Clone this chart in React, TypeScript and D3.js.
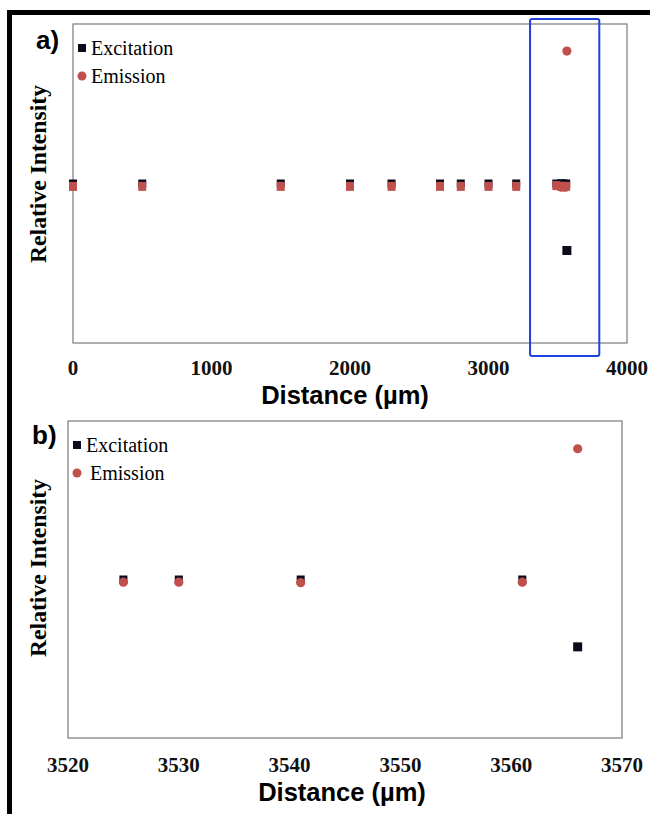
import React from "react";
import * as d3 from "d3";

// ---- data ----
const distA = [0, 500, 1500, 2000, 2300, 2650, 2800, 3000, 3200, 3490, 3525, 3530, 3541, 3561, 3566];
const excitationA = [1.0, 1.0, 1.0, 1.0, 1.0, 1.0, 1.0, 1.0, 1.0, 1.0, 1.0, 1.0, 1.0, 1.0, 0.58];
const emissionA = [0.985, 0.985, 0.985, 0.985, 0.985, 0.985, 0.985, 0.985, 0.985, 0.99, 0.985, 0.985, 0.98, 0.985, 1.83];

const distB = [3525, 3530, 3541, 3561, 3566];
const excitationB = [1.0, 1.0, 1.0, 1.0, 0.575];
const emissionB = [0.983, 0.983, 0.98, 0.983, 1.825];

const ticksA = [0, 1000, 2000, 3000, 4000];
const ticksB = [3520, 3530, 3540, 3550, 3560, 3570];
const highlightA = [3300, 3800];
const seriesNames = ["Excitation", "Emission"];

const EXC = "#0b0b1c";
const EMI = "#c0504d";
const SERIF = "'Liberation Serif', 'Times New Roman', serif";
const SANS = "'Liberation Sans', Arial, sans-serif";

type PanelProps = {
  label: string;
  x0: number; x1: number; y0: number; y1: number;
  domain: [number, number];
  ticks: number[];
  dist: number[];
  exc: number[];
  emi: number[];
  squareEmission: boolean;
  tickBaseline: number;
  titleBaseline: number;
  titleX: number;
  labelPos: [number, number];
  legend: { sqX: number; sqY: number; tx1: number; circX: number; circY: number; tx2: number };
  ylabelY: number;
  highlight?: number[];
};

function Panel(p: PanelProps) {
  const x = d3.scaleLinear().domain(p.domain).range([p.x0, p.x1]);
  const y = d3.scaleLinear().domain([0, 2]).range([p.y1, p.y0]);
  const n = p.dist.length;
  const maxEmi = d3.max(p.emi) as number;
  return (
    <g>
      <rect x={p.x0} y={p.y0} width={p.x1 - p.x0} height={p.y1 - p.y0} fill="#fff" stroke="#7a7a7a" strokeWidth={1.2} />
      <text x={p.labelPos[0]} y={p.labelPos[1]} fontFamily={SANS} fontWeight="bold" fontSize={26} fill="#000">{p.label}</text>
      <text
        transform={`translate(46,${p.ylabelY}) rotate(-90)`}
        textAnchor="middle"
        fontFamily={SERIF}
        fontWeight="bold"
        fontSize={24}
        textLength={178}
        lengthAdjust="spacingAndGlyphs"
        fill="#000"
      >Relative Intensity</text>
      {p.ticks.map((t) => (
        <text key={t} x={x(t)} y={p.tickBaseline} textAnchor="middle" fontFamily={SERIF} fontWeight="bold" fontSize={21} fill="#111">{t}</text>
      ))}
      <text x={p.titleX} y={p.titleBaseline} textAnchor="middle" fontFamily={SANS} fontWeight="bold" fontSize={25.5} fill="#000">Distance (µm)</text>
      {/* legend */}
      <rect x={p.legend.sqX - 4} y={p.legend.sqY - 4} width={8} height={8} fill={EXC} />
      <text x={p.legend.tx1} y={p.legend.sqY + 7} fontFamily={SERIF} fontSize={20} fill="#000">{seriesNames[0]}</text>
      <circle cx={p.legend.circX} cy={p.legend.circY} r={4.5} fill={EMI} />
      <text x={p.legend.tx2} y={p.legend.circY + 7} fontFamily={SERIF} fontSize={20} fill="#000">{seriesNames[1]}</text>
      {/* excitation */}
      {d3.range(n).map((i) => {
        const s = p.exc[i] < 0.8 ? 9 : 8;
        return <rect key={"e" + i} x={x(p.dist[i]) - s / 2} y={y(p.exc[i]) - s / 2} width={s} height={s} fill={EXC} />;
      })}
      {/* emission */}
      {d3.range(n).map((i) => {
        const cx = x(p.dist[i]);
        const cy = y(p.emi[i]);
        if (p.squareEmission && p.emi[i] !== maxEmi) {
          return <rect key={"m" + i} x={cx - 4} y={cy - 4} width={8} height={9} fill={EMI} />;
        }
        return <circle key={"m" + i} cx={cx} cy={cy} r={4.6} fill={EMI} />;
      })}
      {p.highlight && (
        <rect
          x={x(p.highlight[0])}
          y={p.y0 - 5}
          width={x(p.highlight[1]) - x(p.highlight[0])}
          height={p.y1 - p.y0 + 18}
          rx={2}
          fill="none"
          stroke="#2140e0"
          strokeWidth={2}
        />
      )}
    </g>
  );
}

export default function App() {
  return (
    <svg width={650} height={814} style={{ position: "absolute", left: 0, top: 0, background: "#fff" }}>
      <rect x={0} y={0} width={650} height={814} fill="#fff" />
      <rect x={7} y={10} width={643} height={5} fill="#000" />
      <rect x={7} y={10} width={5} height={804} fill="#000" />
      <Panel
        label="a)"
        x0={73} x1={627} y0={24} y1={343}
        domain={[0, 4000]}
        ticks={ticksA}
        dist={distA}
        exc={excitationA}
        emi={emissionA}
        squareEmission={true}
        tickBaseline={375}
        titleBaseline={404}
        titleX={345}
        labelPos={[36, 49]}
        legend={{ sqX: 82, sqY: 48, tx1: 91, circX: 82, circY: 76, tx2: 91 }}
        ylabelY={174}
        highlight={highlightA}
      />
      <Panel
        label="b)"
        x0={68} x1={622} y0={421} y1={738}
        domain={[3520, 3570]}
        ticks={ticksB}
        dist={distB}
        exc={excitationB}
        emi={emissionB}
        squareEmission={false}
        tickBaseline={772}
        titleBaseline={801}
        titleX={342}
        labelPos={[32, 444]}
        legend={{ sqX: 77, sqY: 445, tx1: 86, circX: 77, circY: 473, tx2: 90 }}
        ylabelY={568}
      />
    </svg>
  );
}
